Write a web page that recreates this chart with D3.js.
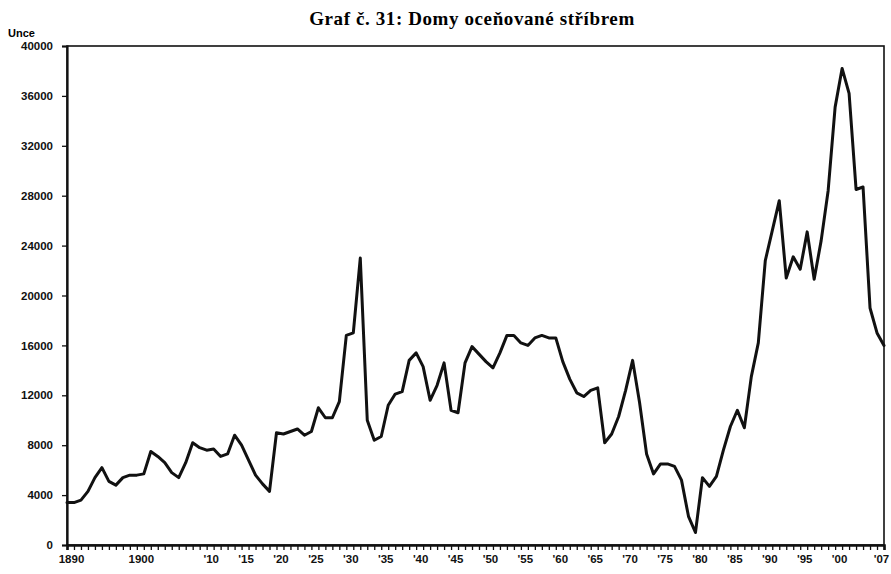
<!DOCTYPE html>
<html>
<head>
<meta charset="utf-8">
<script src="https://cdnjs.cloudflare.com/ajax/libs/d3/7.8.5/d3.min.js"></script>
<style>
  body { margin: 0; background: #fff; }
  text { font-family: "Liberation Sans", Arial, sans-serif; }
</style>
</head>
<body>
<script>
var startYear = 1890;
var endYear = 2007;

// ounces of silver per house, one value per year 1890..2007
var ounces = [
  3400, 3400, 3600, 4300, 5400, 6200, 5100, 4800, 5400, 5600,
  5600, 5700, 7500, 7100, 6600, 5800, 5400, 6600, 8200, 7800,
  7600, 7700, 7100, 7300, 8800, 8000, 6800, 5600, 4900, 4300,
  9000, 8900, 9100, 9300, 8800, 9100, 11000, 10200, 10200, 11500,
  16800, 17000, 23000, 10000, 8400, 8700, 11200, 12100, 12300, 14800,
  15400, 14300, 11600, 12800, 14600, 10800, 10600, 14600, 15900, 15300,
  14700, 14200, 15400, 16800, 16800, 16200, 16000, 16600, 16800, 16600,
  16600, 14700, 13300, 12200, 11900, 12400, 12600, 8200, 8900, 10300,
  12400, 14800, 11400, 7300, 5700, 6500, 6500, 6300, 5200, 2300,
  1000, 5400, 4700, 5500, 7600, 9500, 10800, 9400, 13500, 16200,
  22800, 25200, 27600, 21400, 23100, 22100, 25100, 21300, 24400, 28400,
  35100, 38200, 36200, 28500, 28700, 19000, 17000, 16000
];

var labelYears = [1890, 1900, 1910, 1915, 1920, 1925, 1930, 1935, 1940, 1945, 1950,
  1955, 1960, 1965, 1970, 1975, 1980, 1985, 1990, 1995, 2000, 2007];
var yTicks = [0, 4000, 8000, 12000, 16000, 20000, 24000, 28000, 32000, 36000, 40000];

var title = "Graf č. 31: Domy oceňované stříbrem";
var unitLabel = "Unce";

var width = 891;
var height = 574;

var data = ounces.map(function (v, i) {
  return { year: startYear + i, value: v };
});

var x = d3.scaleLinear().domain([startYear, endYear]).range([67, 884]);
var y = d3.scaleLinear().domain([0, 40000]).range([545, 46]);

var svg = d3.select("body").append("svg").attr("width", width).attr("height", height);

svg
  .append("text")
  .attr("x", 472)
  .attr("y", 25)
  .attr("text-anchor", "middle")
  .style("font-family", "'Liberation Serif', 'DejaVu Serif', serif")
  .style("font-weight", "bold")
  .style("font-size", "19px")
  .style("letter-spacing", "0.6px")
  .text(title);

svg
  .append("text")
  .attr("x", 8)
  .attr("y", 37)
  .style("font-weight", "bold")
  .style("font-size", "11px")
  .text(unitLabel);

// frame (top and right)
svg
  .append("rect")
  .attr("x", x(startYear))
  .attr("y", y(40000))
  .attr("width", x(endYear) - x(startYear))
  .attr("height", y(0) - y(40000))
  .attr("fill", "none")
  .attr("stroke", "#111")
  .attr("stroke-width", 1.6);

// y axis
var yAxis = svg
  .append("g")
  .attr("transform", "translate(" + x(startYear) + ",0)")
  .call(d3.axisLeft(y).tickValues(yTicks).tickSize(5).tickPadding(9).tickFormat(d3.format("d")));
yAxis.select(".domain").attr("stroke", "#111").attr("stroke-width", 2.2);
yAxis.selectAll(".tick line").attr("stroke", "#111").attr("stroke-width", 1.3);
yAxis
  .selectAll(".tick text")
  .attr("fill", "#111")
  .style("font-weight", "bold")
  .style("font-size", "11.5px")
  .style("font-family", "'Liberation Sans', Arial, sans-serif");

// x axis with a tick for every year
var xAxis = svg
  .append("g")
  .attr("transform", "translate(0," + y(0) + ")")
  .call(d3.axisBottom(x).tickValues(d3.range(startYear, endYear + 1)).tickSize(5).tickFormat(""));
xAxis.select(".domain").attr("stroke", "#111").attr("stroke-width", 2.6);
xAxis.selectAll(".tick line").attr("stroke", "#111").attr("stroke-width", 1.3);

var fmtYear = function (d) {
  if (d < 1901) return String(d);
  return "'" + String(d).slice(2);
};

var xLabels = svg
  .append("g")
  .attr("transform", "translate(0," + y(0) + ")")
  .call(d3.axisBottom(x).tickValues(labelYears).tickSize(0).tickPadding(10).tickFormat(fmtYear));
xLabels.select(".domain").remove();
xLabels
  .selectAll(".tick text")
  .attr("fill", "#111")
  .attr("dx", function (d) {
    return d === endYear ? -3 : 4;
  })
  .style("font-weight", "bold")
  .style("font-size", "11.5px")
  .style("font-family", "'Liberation Sans', Arial, sans-serif");

var line = d3
  .line()
  .x(function (d) {
    return x(d.year);
  })
  .y(function (d) {
    return y(d.value);
  });

svg
  .append("path")
  .datum(data)
  .attr("d", line)
  .attr("fill", "none")
  .attr("stroke", "#111")
  .attr("stroke-width", 3)
  .attr("stroke-linejoin", "round")
  .attr("stroke-linecap", "round");
</script>
</body>
</html>
